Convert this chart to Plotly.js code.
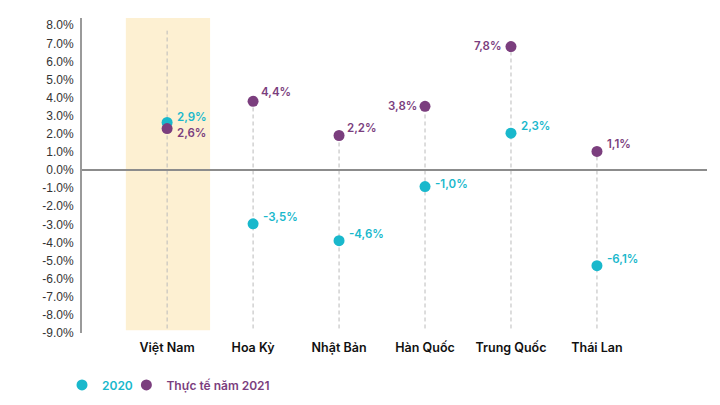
<!DOCTYPE html>
<html>
<head>
<meta charset="utf-8">
<script src="https://cdn.plot.ly/plotly-3.0.1.min.js"></script>
<style>html,body{margin:0;padding:0;background:#fff;}#chart{width:720px;height:405px;}</style>
</head>
<body>
<div id="chart"></div>
<script>
// ---- data ----
const categories = ["Việt Nam", "Hoa Kỳ", "Nhật Bản", "Hàn Quốc", "Trung Quốc", "Thái Lan"];
const values2020 = [2.63, -2.97, -3.90, -0.91, 2.04, -5.28];
const labels2020 = ["2,9%", "-3,5%", "-4,6%", "-1,0%", "2,3%", "-6,1%"];
const values2021 = [2.29, 3.80, 1.91, 3.52, 6.82, 1.03];
const labels2021 = ["2,6%", "4,4%", "2,2%", "3,8%", "7,8%", "1,1%"];
const seriesNames = ["2020", "Thực tế năm 2021"];
const yTickValues = [8, 7, 6, 5, 4, 3, 2, 1, 0, -1, -2, -3, -4, -5, -6, -7, -8, -9];
const yTickLabels = ["8.0%", "7.0%", "6.0%", "5.0%", "4.0%", "3.0%", "2.0%", "1.0%", "0.0%",
  "-1.0%", "-2.0%", "-3.0%", "-4.0%", "-5.0%", "-6.0%", "-7.0%", "-8.0%", "-9.0%"];
const highlightIndex = 0;

// ---- style ----
const cyan = "#19B8CC";
const purple = "#7B3E7E";
const xIdx = categories.map((_, i) => i);

// label placement: [xanchor, xshift, yshift]
const pos2020 = [["left", 8, 5], ["left", 8, 7], ["left", 8, 7], ["left", 8, 3], ["left", 8, 7], ["left", 8, 7]];
const pos2021 = [["left", 8, -4], ["left", 6, 9], ["left", 6, 7], ["right", -6, 0], ["right", -8, 1], ["left", 8, 7]];

const legendFont = {family: "Inter, 'Open Sans', sans-serif", size: 12, weight: 600};

const traces = [
  {x: xIdx, y: values2020, type: "scatter", mode: "markers", legend: "legend",
   name: '<span style="color:' + cyan + '">' + seriesNames[0] + '</span>',
   marker: {color: cyan, size: 11}, hoverinfo: "skip"},
  {x: xIdx, y: values2021, type: "scatter", mode: "markers", legend: "legend2",
   name: '<span style="color:' + purple + '">' + seriesNames[1] + '</span>',
   marker: {color: purple, size: 11}, hoverinfo: "skip"}
];

const shapes = [
  {type: "rect", layer: "below", xref: "x", yref: "y", x0: highlightIndex - 0.48, x1: highlightIndex + 0.5, y0: -8.85, y1: 8.4,
   fillcolor: "#FDF0D2", line: {width: 0}}
];
xIdx.forEach(i => {
  const top = i === highlightIndex ? 7.7 : Math.max(values2020[i], values2021[i]);
  shapes.push({type: "line", layer: "below", xref: "x", yref: "y", x0: i, x1: i, y0: -8.75, y1: top,
    line: {color: "#BBBBBB", width: 1, dash: "4px,3px"}});
});

const annotations = [];
function addLabels(vals, labs, pos, color) {
  vals.forEach((v, i) => {
    annotations.push({x: i, y: v, xref: "x", yref: "y", text: labs[i], showarrow: false,
      xanchor: pos[i][0], yanchor: "middle", xshift: pos[i][1], yshift: pos[i][2],
      font: {family: "Inter, 'Open Sans', sans-serif", size: 11.5, color: color, weight: 600}});
  });
}
addLabels(values2020, labels2020, pos2020, cyan);
addLabels(values2021, labels2021, pos2021, purple);

const layout = {
  width: 720, height: 405,
  margin: {l: 82, r: 13, t: 18, b: 72, autoexpand: false},
  paper_bgcolor: "#ffffff", plot_bgcolor: "#ffffff",
  showlegend: true,
  legend: {orientation: "h", x: -0.032, xanchor: "left", y: -0.165, yanchor: "middle",
    font: legendFont, itemwidth: 30, bgcolor: "rgba(0,0,0,0)"},
  legend2: {orientation: "h", x: 0.071, xanchor: "left", y: -0.165, yanchor: "middle",
    font: legendFont, itemwidth: 30, bgcolor: "rgba(0,0,0,0)"},
  xaxis: {type: "linear", range: [-0.99, 6.28], tickvals: xIdx, ticktext: categories,
    showgrid: false, zeroline: false, showline: false, ticks: "", ticklabelstandoff: 5,
    tickfont: {family: "Inter, 'Open Sans', sans-serif", size: 12.5, color: "#111111", weight: 600}, fixedrange: true},
  yaxis: {range: [-9, 8.4], tickvals: yTickValues, ticktext: yTickLabels,
    showgrid: false, zeroline: true, zerolinecolor: "#8C8C8C", zerolinewidth: 2,
    showline: true, linecolor: "#9A9A9A", linewidth: 2, ticks: "", ticklabelstandoff: 4,
    tickfont: {family: "'Liberation Sans', Arial, sans-serif", size: 12, color: "#333333"}, fixedrange: true},
  shapes: shapes,
  annotations: annotations
};

Plotly.newPlot("chart", traces, layout, {displayModeBar: false, staticPlot: true});
</script>
</body>
</html>
